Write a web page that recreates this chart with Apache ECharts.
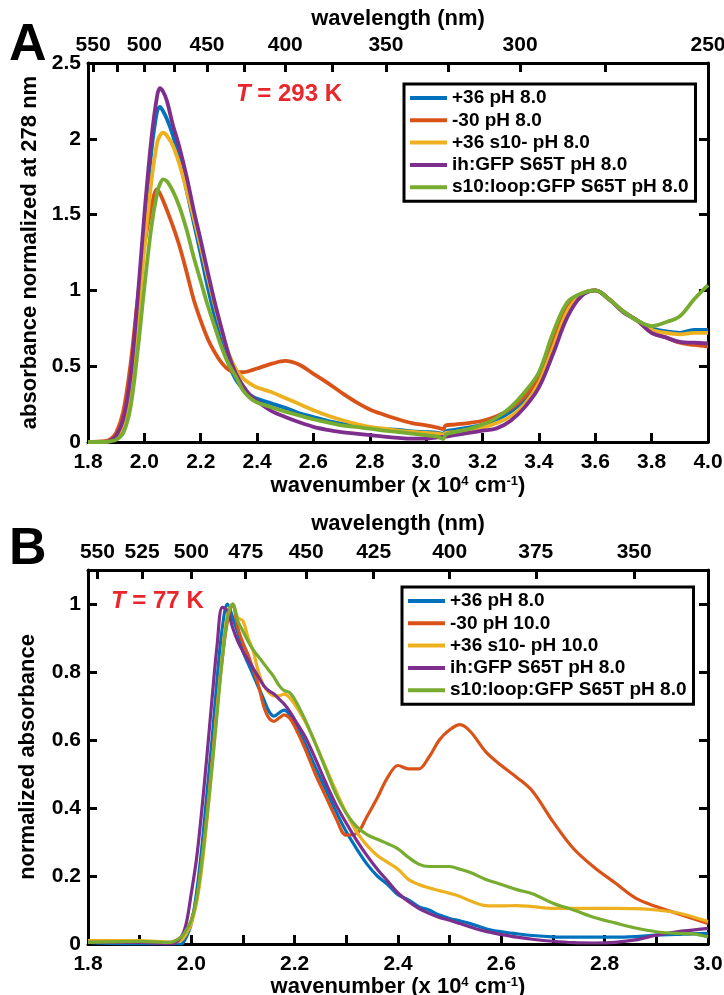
<!DOCTYPE html>
<html>
<head>
<meta charset="utf-8">
<script src="https://cdn.jsdelivr.net/npm/echarts@6/dist/echarts.min.js"></script>
<style>
html,body{margin:0;padding:0;background:#fff;}
#chart{width:724px;height:995px;}
</style>
</head>
<body>
<div id="chart"></div>
<script>
// ---------------- DATA ----------------
const namesA = ['+36 pH 8.0', '-30 pH 8.0', '+36 s10- pH 8.0', 'ih:GFP S65T pH 8.0', 's10:loop:GFP S65T pH 8.0'];
const namesB = ['+36 pH 8.0', '-30 pH 10.0', '+36 s10- pH 10.0', 'ih:GFP S65T pH 8.0', 's10:loop:GFP S65T pH 8.0'];

// Panel A: wavenumber (x 10^4 cm^-1)
const waveA = [1.80, 1.86, 1.88, 1.90, 1.925, 1.95, 1.975, 2.00, 2.025, 2.045, 2.055, 2.067, 2.08, 2.10, 2.125, 2.15, 2.175, 2.20, 2.225, 2.25, 2.275, 2.30, 2.325, 2.35, 2.375, 2.40, 2.45, 2.50, 2.55, 2.60, 2.65, 2.70, 2.75, 2.80, 2.85, 2.90, 2.95, 3.00, 3.04, 3.06, 3.07, 3.10, 3.15, 3.20, 3.25, 3.30, 3.35, 3.40, 3.45, 3.50, 3.55, 3.60, 3.65, 3.70, 3.75, 3.80, 3.85, 3.90, 3.95, 4.00];
const blueA = [0, 0, 0.01, 0.03, 0.12, 0.38, 0.85, 1.42, 1.92, 2.18, 2.21, 2.18, 2.13, 2.03, 1.86, 1.66, 1.45, 1.24, 1.02, 0.83, 0.66, 0.51, 0.41, 0.35, 0.31, 0.285, 0.255, 0.225, 0.19, 0.164, 0.14, 0.12, 0.11, 0.095, 0.085, 0.08, 0.07, 0.065, 0.06, 0.055, 0.07, 0.08, 0.095, 0.115, 0.15, 0.2, 0.28, 0.41, 0.64, 0.87, 0.97, 1.0, 0.94, 0.86, 0.80, 0.75, 0.73, 0.72, 0.74, 0.74];
const redA = [0, 0.005, 0.02, 0.06, 0.2, 0.5, 0.92, 1.3, 1.55, 1.667, 1.64, 1.59, 1.53, 1.43, 1.29, 1.12, 0.94, 0.8, 0.68, 0.59, 0.52, 0.475, 0.46, 0.46, 0.47, 0.485, 0.515, 0.535, 0.51, 0.45, 0.39, 0.325, 0.265, 0.215, 0.18, 0.15, 0.125, 0.11, 0.095, 0.085, 0.11, 0.115, 0.125, 0.14, 0.17, 0.22, 0.3, 0.43, 0.67, 0.88, 0.975, 1.0, 0.94, 0.86, 0.80, 0.72, 0.69, 0.655, 0.64, 0.63];
const yellowA = [0, 0, 0.008, 0.025, 0.1, 0.32, 0.75, 1.28, 1.72, 1.97, 2.02, 2.04, 2.02, 1.96, 1.83, 1.66, 1.48, 1.29, 1.09, 0.9, 0.73, 0.58, 0.48, 0.42, 0.385, 0.36, 0.33, 0.29, 0.25, 0.21, 0.175, 0.145, 0.12, 0.1, 0.088, 0.075, 0.066, 0.06, 0.055, 0.05, 0.06, 0.065, 0.08, 0.095, 0.125, 0.17, 0.25, 0.39, 0.62, 0.86, 0.97, 1.0, 0.94, 0.86, 0.80, 0.74, 0.72, 0.71, 0.72, 0.72];
const purpleA = [0, 0, 0.01, 0.04, 0.15, 0.42, 0.92, 1.5, 2.0, 2.28, 2.334, 2.31, 2.25, 2.1, 1.94, 1.75, 1.53, 1.33, 1.12, 0.92, 0.74, 0.57, 0.45, 0.37, 0.31, 0.27, 0.205, 0.165, 0.13, 0.1, 0.08, 0.065, 0.055, 0.045, 0.035, 0.027, 0.022, 0.022, 0.03, 0.033, 0.035, 0.045, 0.06, 0.075, 0.09, 0.14, 0.23, 0.36, 0.58, 0.82, 0.96, 1.0, 0.94, 0.855, 0.80, 0.72, 0.69, 0.66, 0.655, 0.65];
const greenA = [0, 0, 0.005, 0.015, 0.06, 0.22, 0.58, 1.02, 1.42, 1.64, 1.7, 1.733, 1.72, 1.66, 1.55, 1.4, 1.22, 1.06, 0.9, 0.76, 0.62, 0.51, 0.43, 0.34, 0.29, 0.26, 0.23, 0.2, 0.175, 0.15, 0.13, 0.11, 0.1, 0.088, 0.075, 0.066, 0.055, 0.045, 0.035, 0.02, 0.05, 0.065, 0.085, 0.115, 0.16, 0.23, 0.33, 0.46, 0.72, 0.92, 0.98, 1.0, 0.94, 0.86, 0.80, 0.765, 0.79, 0.83, 0.94, 1.035];

// Panel B
const waveB = [1.80, 1.90, 1.96, 1.98, 1.99, 2.00, 2.01, 2.02, 2.03, 2.04, 2.05, 2.06, 2.07, 2.08, 2.09, 2.10, 2.11, 2.12, 2.13, 2.14, 2.15, 2.16, 2.17, 2.18, 2.19, 2.20, 2.22, 2.24, 2.26, 2.28, 2.30, 2.32, 2.34, 2.36, 2.38, 2.40, 2.42, 2.44, 2.46, 2.48, 2.50, 2.52, 2.54, 2.57, 2.60, 2.63, 2.66, 2.70, 2.74, 2.78, 2.82, 2.86, 2.90, 2.94, 2.97, 3.00];
const blueB = [0.005, 0, 0, 0, 0.02, 0.06, 0.15, 0.28, 0.44, 0.6, 0.78, 0.93, 1.0, 0.96, 0.915, 0.86, 0.825, 0.79, 0.755, 0.72, 0.685, 0.67, 0.68, 0.688, 0.675, 0.65, 0.59, 0.52, 0.455, 0.39, 0.33, 0.28, 0.235, 0.2, 0.175, 0.145, 0.13, 0.11, 0.1, 0.085, 0.075, 0.068, 0.06, 0.045, 0.036, 0.03, 0.025, 0.021, 0.02, 0.02, 0.02, 0.022, 0.026, 0.028, 0.03, 0.031];
const redB = [0.005, 0.005, 0.005, 0.02, 0.04, 0.07, 0.13, 0.24, 0.38, 0.54, 0.7, 0.84, 0.95, 1.0, 0.93, 0.885, 0.85, 0.806, 0.76, 0.7, 0.665, 0.655, 0.665, 0.674, 0.665, 0.64, 0.575, 0.5, 0.435, 0.37, 0.32, 0.325, 0.375, 0.43, 0.49, 0.525, 0.515, 0.515, 0.55, 0.6, 0.63, 0.645, 0.625, 0.565, 0.525, 0.49, 0.45, 0.36, 0.28, 0.225, 0.18, 0.135, 0.11, 0.09, 0.075, 0.06];
const yellowB = [0.01, 0.01, 0.005, 0.01, 0.03, 0.06, 0.12, 0.22, 0.36, 0.52, 0.69, 0.85, 0.97, 1.0, 0.96, 0.95, 0.9, 0.86, 0.8, 0.76, 0.74, 0.73, 0.73, 0.735, 0.725, 0.705, 0.655, 0.59, 0.52, 0.45, 0.385, 0.33, 0.29, 0.26, 0.24, 0.22, 0.19, 0.175, 0.165, 0.157, 0.149, 0.14, 0.127, 0.113, 0.112, 0.113, 0.11, 0.105, 0.105, 0.105, 0.105, 0.104, 0.1, 0.092, 0.08, 0.066];
const purpleB = [0.005, 0.005, 0, 0.02, 0.06, 0.15, 0.25, 0.39, 0.55, 0.72, 0.88, 0.99, 0.98, 0.93, 0.89, 0.86, 0.835, 0.81, 0.785, 0.76, 0.745, 0.735, 0.72, 0.705, 0.685, 0.66, 0.61, 0.545, 0.475, 0.41, 0.355, 0.305, 0.26, 0.22, 0.185, 0.15, 0.125, 0.105, 0.09, 0.078, 0.07, 0.06, 0.05, 0.037, 0.028, 0.02, 0.014, 0.008, 0.004, 0.003, 0.005, 0.012, 0.026, 0.036, 0.041, 0.046];
const greenB = [0.005, 0.008, 0.005, 0.02, 0.04, 0.07, 0.13, 0.24, 0.37, 0.52, 0.68, 0.84, 0.96, 1.0, 0.95, 0.92, 0.89, 0.865, 0.845, 0.825, 0.805, 0.785, 0.76, 0.745, 0.74, 0.72, 0.66, 0.59, 0.515, 0.44, 0.384, 0.345, 0.322, 0.308, 0.295, 0.28, 0.255, 0.235, 0.228, 0.228, 0.228, 0.22, 0.21, 0.19, 0.175, 0.16, 0.148, 0.12, 0.1, 0.078, 0.062, 0.047, 0.036, 0.031, 0.03, 0.021];

// Tick labels
const yTicksA = [0, 0.5, 1, 1.5, 2, 2.5];
const xTicksA = [1.8, 2.0, 2.2, 2.4, 2.6, 2.8, 3.0, 3.2, 3.4, 3.6, 3.8, 4.0];
const nmLabelsA = [550, 500, 450, 400, 350, 300, 250];
const nmTicksA = [550, 525, 500, 475, 450, 425, 400, 375, 350, 325, 300, 275, 250];
const yTicksB = [0, 0.2, 0.4, 0.6, 0.8, 1.0];
const xLabelsB = [1.8, 2.0, 2.2, 2.4, 2.6, 2.8, 3.0];
const xTicksB = [1.8, 1.9, 2.0, 2.1, 2.2, 2.3, 2.4, 2.5, 2.6, 2.7, 2.8, 2.9, 3.0];
const nmLabelsB = [550, 525, 500, 475, 450, 425, 400, 375, 350];

// ---------------- STYLE ----------------
const FONT = '"Liberation Sans", Arial, Helvetica, sans-serif';
const COLORS = ['#0072BD', '#D95319', '#EDB120', '#7E2F8E', '#77AC30'];
const RED = '#e8262b';
const toWn = nm => 1000 / nm;   // nm -> 10^4 cm^-1

function baseAxis(extra) {
  const a = {
    axisLine: {show: true, onZero: false, lineStyle: {color: '#000', width: 3}},
    axisTick: {show: true, inside: true, length: 9, lineStyle: {color: '#000', width: 3}},
    splitLine: {show: false},
    axisLabel: {color: '#000', fontFamily: FONT, fontWeight: 'bold', fontSize: 21},
    nameTextStyle: {color: '#000', fontFamily: FONT, fontWeight: 'bold', fontSize: 22}
  };
  return echarts.util.merge(a, extra, true);
}
const supRich = {s: {fontSize: 13, fontWeight: 'bold', fontFamily: FONT, color: '#000', verticalAlign: 'top', lineHeight: 22}};

const xAxis = [
  baseAxis({type: 'value', gridIndex: 0, position: 'bottom', min: 1.8, max: 4.0,
    axisTick: {customValues: xTicksA},
    axisLabel: {customValues: xTicksA, margin: 10, formatter: v => v.toFixed(1)},
    name: 'wavenumber (x 10{s|4} cm{s|-1})', nameLocation: 'middle', nameGap: 33,
    nameTextStyle: {rich: supRich}}),
  baseAxis({type: 'value', gridIndex: 0, position: 'top', min: 1.8, max: 4.0,
    axisTick: {customValues: nmTicksA.map(toWn)},
    axisLabel: {customValues: nmLabelsA.map(toWn), margin: 7, formatter: v => String(Math.round(1000 / v))},
    name: 'wavelength (nm)', nameLocation: 'middle', nameGap: 33}),
  baseAxis({type: 'value', gridIndex: 1, position: 'bottom', min: 1.8, max: 3.0,
    axisTick: {customValues: xTicksB},
    axisLabel: {customValues: xLabelsB, margin: 10, formatter: v => v.toFixed(1)},
    name: 'wavenumber (x 10{s|4} cm{s|-1})', nameLocation: 'middle', nameGap: 31,
    nameTextStyle: {rich: supRich}}),
  baseAxis({type: 'value', gridIndex: 1, position: 'top', min: 1.8, max: 3.0,
    axisTick: {customValues: nmLabelsB.map(toWn)},
    axisLabel: {customValues: nmLabelsB.map(toWn), margin: 7, formatter: v => String(Math.round(1000 / v))},
    name: 'wavelength (nm)', nameLocation: 'middle', nameGap: 35})
];

const yAxis = [
  baseAxis({type: 'value', gridIndex: 0, position: 'left', min: 0, max: 2.5,
    axisTick: {customValues: yTicksA},
    axisLabel: {customValues: yTicksA, margin: 7, formatter: v => String(+v.toFixed(1))},
    name: 'absorbance normalized at 278 nm', nameLocation: 'middle', nameGap: 46, nameRotate: 90}),
  baseAxis({type: 'value', gridIndex: 0, position: 'right', min: 0, max: 2.5,
    axisTick: {customValues: yTicksA}, axisLabel: {show: false}}),
  baseAxis({type: 'value', gridIndex: 1, position: 'left', min: 0, max: 1.1,
    axisTick: {customValues: yTicksB},
    axisLabel: {customValues: yTicksB, margin: 7, formatter: v => String(+v.toFixed(1))},
    name: 'normalized absorbance', nameLocation: 'middle', nameGap: 49, nameRotate: 90}),
  baseAxis({type: 'value', gridIndex: 1, position: 'right', min: 0, max: 1.1,
    axisTick: {customValues: yTicksB}, axisLabel: {show: false}})
];

function mkSeries(names, xs, ys, xi, yi, width) {
  return ys.map((arr, k) => ({
    type: 'line', name: names[k], xAxisIndex: xi, yAxisIndex: yi,
    data: xs.map((x, i) => [x, arr[i]]),
    showSymbol: false, symbol: 'none', smooth: 0.35,
    lineStyle: {color: COLORS[k], width: width, join: 'round'}, itemStyle: {color: COLORS[k]},
    clip: true, z: 2 + k
  }));
}

const series = [].concat(
  mkSeries(namesA, waveA, [blueA, redA, yellowA, purpleA, greenA], 0, 0, 3.8),
  mkSeries(namesB, waveB, [blueB, redB, yellowB, purpleB, greenB], 2, 2, 3.2)
);

function mkLegend(names, left, top) {
  return {
    data: names, left: left, top: top, orient: 'vertical',
    icon: 'rect', itemWidth: 37, itemHeight: 4, itemGap: 0.3,
    padding: [3, 7, 3, 6], borderColor: '#000', borderWidth: 3, backgroundColor: '#fff',
    selectedMode: false,
    textStyle: {fontFamily: FONT, fontWeight: 'bold', fontSize: 19, color: '#000', lineHeight: 22}
  };
}

function tempLabel(txt, left, top) {
  return {
    type: 'text', left: left, top: top, z: 100,
    style: {
      text: '{i|T}{n| = ' + txt + '}',
      rich: {
        i: {fontStyle: 'italic', fontWeight: 'bold', fontSize: 24, fontFamily: FONT, fill: RED},
        n: {fontWeight: 'bold', fontSize: 24, fontFamily: FONT, fill: RED}
      }
    }
  };
}

const option = {
  backgroundColor: '#ffffff',
  animation: false,
  grid: [
    {left: 88, right: 16, top: 63, bottom: 553, outerBoundsMode: 'none', containLabel: false},
    {left: 88, right: 16, top: 570, bottom: 51, outerBoundsMode: 'none', containLabel: false}
  ],
  xAxis: xAxis,
  yAxis: yAxis,
  legend: [mkLegend(namesA, 404, 84), mkLegend(namesB, 402, 587)],
  series: series,
  graphic: [
    {type: 'text', left: 9, top: 20, style: {text: 'A', font: 'bold 52px ' + FONT, fill: '#000'}},
    {type: 'text', left: 9, top: 524, style: {text: 'B', font: 'bold 52px ' + FONT, fill: '#000'}},
    tempLabel('293 K', 236, 82),
    tempLabel('77 K', 111, 589)
  ]
};

const chart = echarts.init(document.getElementById('chart'), null, {renderer: 'canvas'});
chart.setOption(option);
</script>
</body>
</html>
